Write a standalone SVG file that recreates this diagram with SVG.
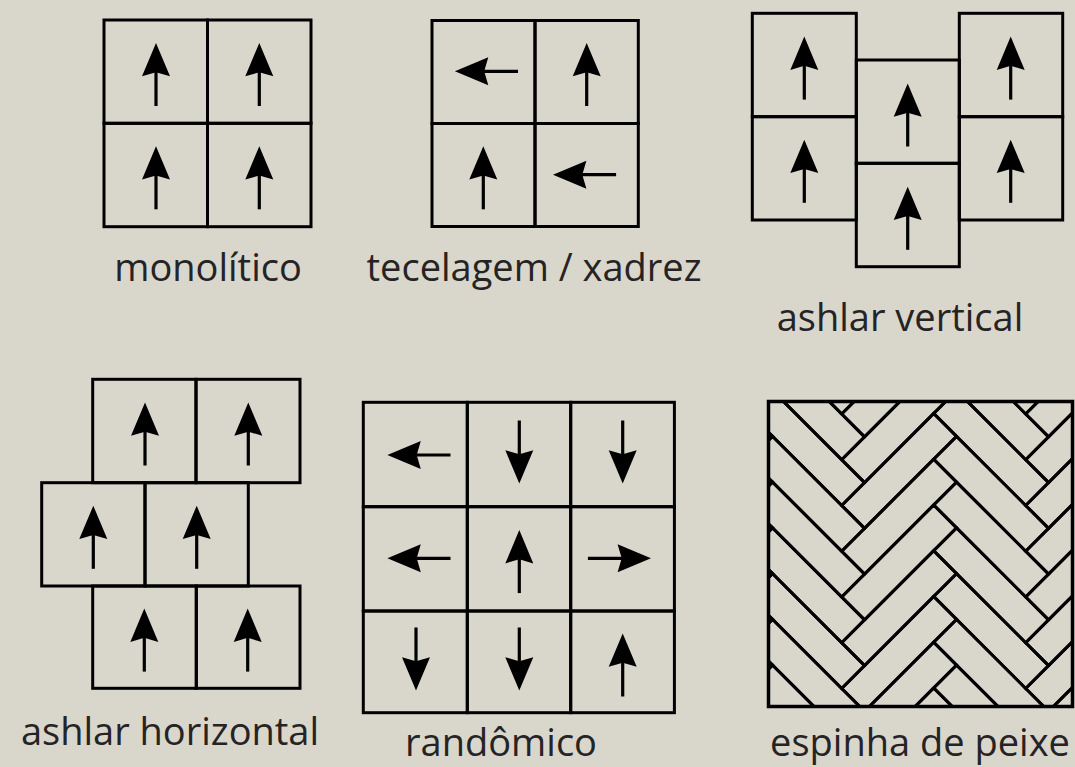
<svg xmlns="http://www.w3.org/2000/svg" width="1075" height="767" viewBox="0 0 1075 767">
<style>
.tile{fill:none;stroke:#000;stroke-width:3}
.board{fill:none;stroke:#000;stroke-width:3;stroke-linejoin:miter}
.lbl{font-family:"Open Sans","Noto Sans","Liberation Sans",sans-serif;font-size:38px;fill:#262324;text-anchor:middle}
</style>
<defs>
<g id="arr"><path d="M0,-31.8L14,1.6L0,-2.5L-14,1.6Z" fill="#000"/><path d="M0,-4V31.3" fill="none" stroke="#000" stroke-width="3.2"/></g>
<g id="pair">
<polygon class="board" points="0,0 -92,-92 -69.125,-114.875 22.875,-22.875"/>
<polygon class="board" points="0,0 22.875,22.875 114.875,-69.125 92,-92"/>
</g>
<g id="col">
<use href="#pair" y="-45.75"/><use href="#pair" y="0"/><use href="#pair" y="45.75"/><use href="#pair" y="91.5"/><use href="#pair" y="137.25"/><use href="#pair" y="183"/><use href="#pair" y="228.75"/><use href="#pair" y="274.5"/><use href="#pair" y="320.25"/>
</g>
<clipPath id="hbclip"><rect x="768" y="401" width="305" height="306"/></clipPath>
</defs>
<rect width="1075" height="767" fill="#d9d6cc"/>

<g id="monolitico">
<rect class="tile" x="104" y="20" width="103.5" height="103.3"/>
<rect class="tile" x="207.5" y="20" width="103.5" height="103.3"/>
<rect class="tile" x="104" y="123.3" width="103.5" height="103.4"/>
<rect class="tile" x="207.5" y="123.3" width="103.5" height="103.4"/>
<use href="#arr" transform="translate(156,74.7)"/>
<use href="#arr" transform="translate(259.3,74.7)"/>
<use href="#arr" transform="translate(156,178)"/>
<use href="#arr" transform="translate(259.3,178)"/>
<text class="lbl" x="208" y="281">monolítico</text>
</g>

<g id="tecelagem">
<rect class="tile" x="432" y="20.5" width="103" height="103"/>
<rect class="tile" x="535" y="20.5" width="103.3" height="103"/>
<rect class="tile" x="432" y="123.5" width="103" height="103"/>
<rect class="tile" x="535" y="123.5" width="103.3" height="103"/>
<use href="#arr" transform="translate(486.7,71.3) rotate(-90)"/>
<use href="#arr" transform="translate(586.7,74.7)"/>
<use href="#arr" transform="translate(483.3,178)"/>
<use href="#arr" transform="translate(584.8,174.7) rotate(-90)"/>
<text class="lbl" x="534" y="281">tecelagem / xadrez</text>
</g>

<g id="ashlar-vertical">
<rect class="tile" x="752.3" y="13.3" width="104" height="103.4"/>
<rect class="tile" x="752.3" y="116.7" width="104" height="103.3"/>
<rect class="tile" x="856.3" y="60" width="103" height="103.3"/>
<rect class="tile" x="856.3" y="163.3" width="103" height="103.4"/>
<rect class="tile" x="959.3" y="13.3" width="103.4" height="103.4"/>
<rect class="tile" x="959.3" y="116.7" width="103.4" height="103.3"/>
<use href="#arr" transform="translate(804.3,68.3)"/>
<use href="#arr" transform="translate(804.3,171.5)"/>
<use href="#arr" transform="translate(907.7,115.2)"/>
<use href="#arr" transform="translate(907.7,218.5)"/>
<use href="#arr" transform="translate(1010.7,68.3)"/>
<use href="#arr" transform="translate(1010.7,171.5)"/>
<text class="lbl" x="900" y="331">ashlar vertical</text>
</g>

<g id="ashlar-horizontal">
<rect class="tile" x="92.7" y="379.3" width="103.3" height="103.4"/>
<rect class="tile" x="196" y="379.3" width="104" height="103.4"/>
<rect class="tile" x="41.7" y="482.7" width="103.3" height="103.3"/>
<rect class="tile" x="145" y="482.7" width="103.3" height="103.3"/>
<rect class="tile" x="92.7" y="586" width="103.6" height="102.3"/>
<rect class="tile" x="196.3" y="586" width="103.7" height="102.3"/>
<use href="#arr" transform="translate(145,434.2)"/>
<use href="#arr" transform="translate(248.3,434.2)"/>
<use href="#arr" transform="translate(93.3,537.5)"/>
<use href="#arr" transform="translate(196.7,537.5)"/>
<use href="#arr" transform="translate(144.3,640.3)"/>
<use href="#arr" transform="translate(247.7,640.3)"/>
<text class="lbl" x="170" y="745">ashlar horizontal</text>
</g>

<g id="randomico">
<rect class="tile" x="363.3" y="402.3" width="104" height="104.4"/>
<rect class="tile" x="467.3" y="402.3" width="103.4" height="104.4"/>
<rect class="tile" x="570.7" y="402.3" width="103.7" height="104.4"/>
<rect class="tile" x="363.3" y="506.7" width="104" height="104.3"/>
<rect class="tile" x="467.3" y="506.7" width="103.4" height="104.3"/>
<rect class="tile" x="570.7" y="506.7" width="103.7" height="104.3"/>
<rect class="tile" x="363.3" y="611" width="104" height="101.7"/>
<rect class="tile" x="467.3" y="611" width="103.4" height="101.7"/>
<rect class="tile" x="570.7" y="611" width="103.7" height="101.7"/>
<use href="#arr" transform="translate(419.2,455) rotate(-90)"/>
<use href="#arr" transform="translate(519.3,451.8) rotate(180)"/>
<use href="#arr" transform="translate(622.7,451.8) rotate(180)"/>
<use href="#arr" transform="translate(419.2,558.3) rotate(-90)"/>
<use href="#arr" transform="translate(519.3,561.8)"/>
<use href="#arr" transform="translate(619.2,558.3) rotate(90)"/>
<use href="#arr" transform="translate(416,658.8) rotate(180)"/>
<use href="#arr" transform="translate(519.3,658.8) rotate(180)"/>
<use href="#arr" transform="translate(622.7,665.2)"/>
<text class="lbl" x="501" y="756">randômico</text>
</g>

<g id="espinha-de-peixe">
<g clip-path="url(#hbclip)">
<use href="#col" x="657.7" y="459.7"/>
<use href="#col" x="841.7" y="459.7"/>
<use href="#col" x="1025.7" y="459.7"/>
</g>
<rect x="768.5" y="401.5" width="304" height="305" fill="none" stroke="#000" stroke-width="3.5"/>
<text class="lbl" x="920" y="756">espinha de peixe</text>
</g>
</svg>
